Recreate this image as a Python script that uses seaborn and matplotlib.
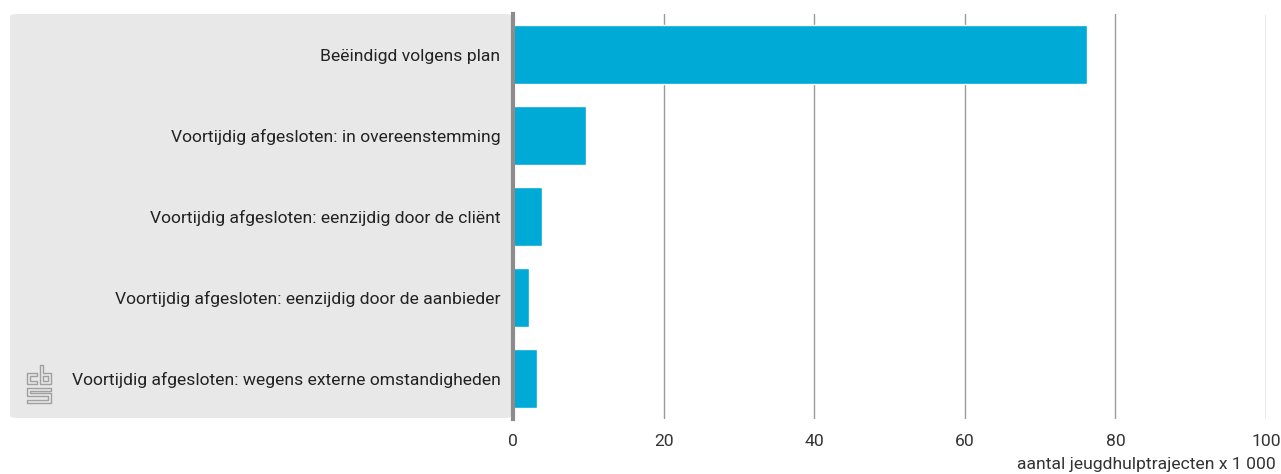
import matplotlib
matplotlib.use("Agg")
import matplotlib.pyplot as plt
from matplotlib.patches import FancyBboxPatch
import seaborn as sns
import pandas as pd

categories = [
    "Beëindigd volgens plan",
    "Voortijdig afgesloten: in overeenstemming",
    "Voortijdig afgesloten: eenzijdig door de cliënt",
    "Voortijdig afgesloten: eenzijdig door de aanbieder",
    "Voortijdig afgesloten: wegens externe omstandigheden",
]
values = [76.2, 9.7, 3.85, 2.1, 3.2]
xticks = [0, 20, 40, 60, 80, 100]
xlabel = "aantal jeugdhulptrajecten x 1 000"

sns.set_theme(style="white")
plt.rcParams["font.family"] = ["Roboto", "DejaVu Sans"]

W, H = 1281, 474
fig = plt.figure(figsize=(W / 100, H / 100), dpi=100)

# grey label panel
panel = FancyBboxPatch((10 / W, 1 - 418 / H), (512 - 10) / W, (418 - 14) / H,
                       boxstyle="round,pad=0,rounding_size=0.006",
                       transform=fig.transFigure, facecolor="#e8e8e8",
                       edgecolor="none", zorder=-10)
fig.patches.append(panel)

ax = fig.add_axes([513 / W, 1 - 419 / H, (1266 - 513) / W, (419 - 14) / H])

df = pd.DataFrame({"cat": categories, "val": values})
sns.barplot(data=df, x="val", y="cat", orient="h", color="#00aad7",
            saturation=1, width=0.73, ax=ax, zorder=3)

ax.set_xlim(0, 100)
ax.set_ylim(4.5, -0.5)
ax.set_xticks(xticks)
ax.set_xticklabels([str(t) for t in xticks])
ax.set_facecolor("none")
for s in ["top", "right", "bottom"]:
    ax.spines[s].set_visible(False)
ax.spines["left"].set_color("#8c8c8c")
ax.spines["left"].set_linewidth(3)
ax.spines["left"].set_zorder(5)
ax.grid(axis="x", color="#9a9a9a", linewidth=1, zorder=1)
ax.grid(axis="y", visible=False)
ax.tick_params(axis="x", length=0, pad=11, labelsize=12.6, labelcolor="#333333")
ax.tick_params(axis="y", length=0, pad=9, labelsize=12.6, labelcolor="#222222")
ax.set_ylabel("")
ax.set_xlabel("")
fig.text(1276 / W, 1 - 464 / H, xlabel, ha="right", va="center",
         fontsize=12.6, color="#333333")

# simple cbs logo approximation (outlined letters c, b, S)
lax = fig.add_axes([27 / W, 1 - 403 / H, 24 / W, 38 / H])
lax.set_xlim(0, 24)
lax.set_ylim(38, 0)
lax.axis("off")
c = "#a0a0a0"
lw = 1.0
shapes = [
    [(10, 8), (0, 8), (0, 19), (10, 19), (10, 16), (3, 16), (3, 11), (10, 11)],
    [(13, 0), (16, 0), (16, 8), (24, 8), (24, 19), (13, 19)],
    [(16, 11), (21, 11), (21, 16), (16, 16)],
    [(24, 23), (0, 23), (0, 31), (21, 31), (21, 35), (0, 35), (0, 38),
     (24, 38), (24, 28), (3, 28), (3, 26), (24, 26)],
]
for shp in shapes:
    xs = [p[0] for p in shp] + [shp[0][0]]
    ys = [p[1] for p in shp] + [shp[0][1]]
    lax.plot(xs, ys, color=c, lw=lw, clip_on=False)

fig.savefig("out.png", dpi=100)
